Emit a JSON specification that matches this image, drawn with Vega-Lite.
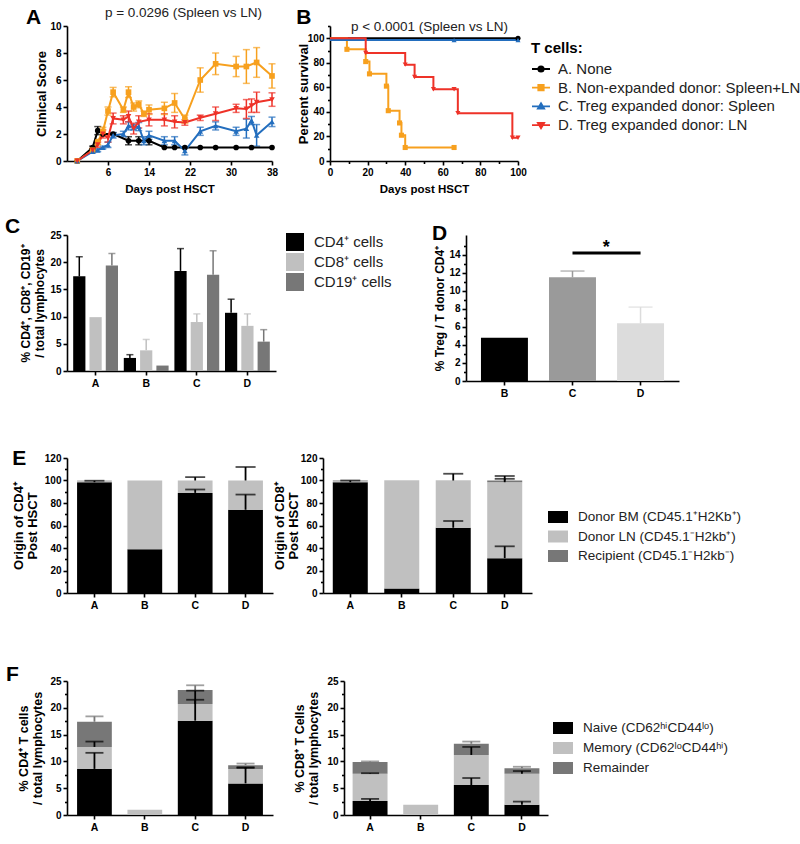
{
"$schema": "https://vega.github.io/schema/vega-lite/v6.json",
"background": "white",
"padding": {"left": 4, "top": 5, "right": 2, "bottom": 2},
"spacing": 21,
"resolve": {"scale": {"color": "independent", "shape": "independent", "stroke": "independent", "fill": "independent"}, "legend": {"color": "independent", "shape": "independent", "stroke": "independent", "fill": "independent"}},
"datasets": {
"score": [
{"day":0,"s":"A. None","score":0},{"day":3,"s":"A. None","score":1.0},{"day":4,"s":"A. None","score":2.25},{"day":5,"s":"A. None","score":2.0},{"day":7,"s":"A. None","score":2.0},{"day":10,"s":"A. None","score":1.5},{"day":12,"s":"A. None","score":1.5},{"day":14,"s":"A. None","score":1.5},{"day":17,"s":"A. None","score":1},{"day":19,"s":"A. None","score":1},{"day":21,"s":"A. None","score":1},{"day":24,"s":"A. None","score":1},{"day":27,"s":"A. None","score":1},{"day":31,"s":"A. None","score":1},{"day":34,"s":"A. None","score":1},{"day":38,"s":"A. None","score":1},
{"day":0,"s":"B. Non-expanded donor: Spleen+LN","score":0},{"day":3,"s":"B. Non-expanded donor: Spleen+LN","score":0.8},{"day":4,"s":"B. Non-expanded donor: Spleen+LN","score":1.4},{"day":5,"s":"B. Non-expanded donor: Spleen+LN","score":2.2},{"day":6,"s":"B. Non-expanded donor: Spleen+LN","score":3.7},{"day":7,"s":"B. Non-expanded donor: Spleen+LN","score":5.1},{"day":9,"s":"B. Non-expanded donor: Spleen+LN","score":3.8},{"day":10,"s":"B. Non-expanded donor: Spleen+LN","score":5.1},{"day":11,"s":"B. Non-expanded donor: Spleen+LN","score":4.0},{"day":12,"s":"B. Non-expanded donor: Spleen+LN","score":4.2},{"day":13,"s":"B. Non-expanded donor: Spleen+LN","score":3.5},{"day":14,"s":"B. Non-expanded donor: Spleen+LN","score":3.8},{"day":17,"s":"B. Non-expanded donor: Spleen+LN","score":3.9},{"day":19,"s":"B. Non-expanded donor: Spleen+LN","score":4.3},{"day":21,"s":"B. Non-expanded donor: Spleen+LN","score":3.1},{"day":24,"s":"B. Non-expanded donor: Spleen+LN","score":6.0},{"day":27,"s":"B. Non-expanded donor: Spleen+LN","score":7.2},{"day":31,"s":"B. Non-expanded donor: Spleen+LN","score":7.0},{"day":33,"s":"B. Non-expanded donor: Spleen+LN","score":7.0},{"day":35,"s":"B. Non-expanded donor: Spleen+LN","score":7.3},{"day":38,"s":"B. Non-expanded donor: Spleen+LN","score":6.3},
{"day":0,"s":"C. Treg expanded donor: Spleen","score":0},{"day":3,"s":"C. Treg expanded donor: Spleen","score":0.7},{"day":4,"s":"C. Treg expanded donor: Spleen","score":0.8},{"day":5,"s":"C. Treg expanded donor: Spleen","score":1.0},{"day":6,"s":"C. Treg expanded donor: Spleen","score":1.2},{"day":7,"s":"C. Treg expanded donor: Spleen","score":1.9},{"day":9,"s":"C. Treg expanded donor: Spleen","score":2.0},{"day":10,"s":"C. Treg expanded donor: Spleen","score":2.6},{"day":11,"s":"C. Treg expanded donor: Spleen","score":2.5},{"day":12,"s":"C. Treg expanded donor: Spleen","score":2.55},{"day":13,"s":"C. Treg expanded donor: Spleen","score":1.5},{"day":14,"s":"C. Treg expanded donor: Spleen","score":1.9},{"day":17,"s":"C. Treg expanded donor: Spleen","score":1.5},{"day":19,"s":"C. Treg expanded donor: Spleen","score":1.5},{"day":21,"s":"C. Treg expanded donor: Spleen","score":0.75},{"day":24,"s":"C. Treg expanded donor: Spleen","score":2.2},{"day":27,"s":"C. Treg expanded donor: Spleen","score":2.6},{"day":31,"s":"C. Treg expanded donor: Spleen","score":2.2},{"day":33,"s":"C. Treg expanded donor: Spleen","score":2.4},{"day":34,"s":"C. Treg expanded donor: Spleen","score":3.0},{"day":35,"s":"C. Treg expanded donor: Spleen","score":1.9},{"day":38,"s":"C. Treg expanded donor: Spleen","score":2.9},
{"day":0,"s":"D. Treg expanded donor: LN","score":0},{"day":3,"s":"D. Treg expanded donor: LN","score":0.8},{"day":4,"s":"D. Treg expanded donor: LN","score":1.2},{"day":5,"s":"D. Treg expanded donor: LN","score":2.0},{"day":6,"s":"D. Treg expanded donor: LN","score":1.7},{"day":7,"s":"D. Treg expanded donor: LN","score":3.15},{"day":9,"s":"D. Treg expanded donor: LN","score":3.05},{"day":10,"s":"D. Treg expanded donor: LN","score":3.3},{"day":11,"s":"D. Treg expanded donor: LN","score":2.4},{"day":12,"s":"D. Treg expanded donor: LN","score":2.9},{"day":14,"s":"D. Treg expanded donor: LN","score":3.05},{"day":17,"s":"D. Treg expanded donor: LN","score":3.05},{"day":19,"s":"D. Treg expanded donor: LN","score":2.9},{"day":21,"s":"D. Treg expanded donor: LN","score":2.85},{"day":24,"s":"D. Treg expanded donor: LN","score":3.2},{"day":27,"s":"D. Treg expanded donor: LN","score":3.5},{"day":31,"s":"D. Treg expanded donor: LN","score":3.9},{"day":33,"s":"D. Treg expanded donor: LN","score":3.85},{"day":34,"s":"D. Treg expanded donor: LN","score":4.1},{"day":35,"s":"D. Treg expanded donor: LN","score":4.35},{"day":38,"s":"D. Treg expanded donor: LN","score":4.55}
],
"scoreErr": [
{"day":3,"s":"A. None","lo":0.9,"hi":1.1},{"day":4,"s":"A. None","lo":1.95,"hi":2.55},{"day":7,"s":"A. None","lo":1.9,"hi":2.1},{"day":10,"s":"A. None","lo":1.2,"hi":1.8},{"day":12,"s":"A. None","lo":1.2,"hi":1.8},{"day":14,"s":"A. None","lo":1.2,"hi":1.8},
{"day":3,"s":"B. Non-expanded donor: Spleen+LN","lo":0.7,"hi":0.9},{"day":4,"s":"B. Non-expanded donor: Spleen+LN","lo":1.2,"hi":1.6},{"day":5,"s":"B. Non-expanded donor: Spleen+LN","lo":1.9,"hi":2.5},{"day":6,"s":"B. Non-expanded donor: Spleen+LN","lo":3.4,"hi":4.0},{"day":7,"s":"B. Non-expanded donor: Spleen+LN","lo":4.75,"hi":5.45},{"day":9,"s":"B. Non-expanded donor: Spleen+LN","lo":3.6,"hi":4.0},{"day":10,"s":"B. Non-expanded donor: Spleen+LN","lo":4.7,"hi":5.5},{"day":11,"s":"B. Non-expanded donor: Spleen+LN","lo":3.7,"hi":4.3},{"day":12,"s":"B. Non-expanded donor: Spleen+LN","lo":3.95,"hi":4.45},{"day":13,"s":"B. Non-expanded donor: Spleen+LN","lo":3.3,"hi":3.7},{"day":14,"s":"B. Non-expanded donor: Spleen+LN","lo":3.45,"hi":4.15},{"day":17,"s":"B. Non-expanded donor: Spleen+LN","lo":3.45,"hi":4.35},{"day":19,"s":"B. Non-expanded donor: Spleen+LN","lo":3.6,"hi":5.0},{"day":21,"s":"B. Non-expanded donor: Spleen+LN","lo":2.8,"hi":3.4},{"day":24,"s":"B. Non-expanded donor: Spleen+LN","lo":5.1,"hi":6.9},{"day":27,"s":"B. Non-expanded donor: Spleen+LN","lo":6.4,"hi":8.0},{"day":31,"s":"B. Non-expanded donor: Spleen+LN","lo":6.25,"hi":7.75},{"day":33,"s":"B. Non-expanded donor: Spleen+LN","lo":5.75,"hi":8.25},{"day":35,"s":"B. Non-expanded donor: Spleen+LN","lo":6.2,"hi":8.4},{"day":38,"s":"B. Non-expanded donor: Spleen+LN","lo":5.4,"hi":7.2},
{"day":3,"s":"C. Treg expanded donor: Spleen","lo":0.6,"hi":0.8},{"day":4,"s":"C. Treg expanded donor: Spleen","lo":0.7,"hi":0.9},{"day":5,"s":"C. Treg expanded donor: Spleen","lo":0.9,"hi":1.1},{"day":6,"s":"C. Treg expanded donor: Spleen","lo":1.0,"hi":1.4},{"day":7,"s":"C. Treg expanded donor: Spleen","lo":1.7,"hi":2.1},{"day":9,"s":"C. Treg expanded donor: Spleen","lo":1.8,"hi":2.2},{"day":10,"s":"C. Treg expanded donor: Spleen","lo":2.3,"hi":2.9},{"day":11,"s":"C. Treg expanded donor: Spleen","lo":2.3,"hi":2.7},{"day":12,"s":"C. Treg expanded donor: Spleen","lo":2.25,"hi":2.85},{"day":13,"s":"C. Treg expanded donor: Spleen","lo":1.2,"hi":1.8},{"day":14,"s":"C. Treg expanded donor: Spleen","lo":1.6,"hi":2.2},{"day":17,"s":"C. Treg expanded donor: Spleen","lo":1.2,"hi":1.8},{"day":19,"s":"C. Treg expanded donor: Spleen","lo":1.2,"hi":1.8},{"day":21,"s":"C. Treg expanded donor: Spleen","lo":0.45,"hi":1.05},{"day":24,"s":"C. Treg expanded donor: Spleen","lo":1.9,"hi":2.5},{"day":27,"s":"C. Treg expanded donor: Spleen","lo":2.3,"hi":2.9},{"day":31,"s":"C. Treg expanded donor: Spleen","lo":1.9,"hi":2.5},{"day":33,"s":"C. Treg expanded donor: Spleen","lo":1.7,"hi":3.1},{"day":34,"s":"C. Treg expanded donor: Spleen","lo":2.7,"hi":3.3},{"day":35,"s":"C. Treg expanded donor: Spleen","lo":1.1,"hi":2.7},{"day":38,"s":"C. Treg expanded donor: Spleen","lo":2.55,"hi":3.25},
{"day":3,"s":"D. Treg expanded donor: LN","lo":0.7,"hi":0.9},{"day":4,"s":"D. Treg expanded donor: LN","lo":1.0,"hi":1.4},{"day":5,"s":"D. Treg expanded donor: LN","lo":1.7,"hi":2.3},{"day":6,"s":"D. Treg expanded donor: LN","lo":1.4,"hi":2.0},{"day":7,"s":"D. Treg expanded donor: LN","lo":2.75,"hi":3.55},{"day":9,"s":"D. Treg expanded donor: LN","lo":2.75,"hi":3.35},{"day":10,"s":"D. Treg expanded donor: LN","lo":2.9,"hi":3.7},{"day":11,"s":"D. Treg expanded donor: LN","lo":2.0,"hi":2.8},{"day":12,"s":"D. Treg expanded donor: LN","lo":2.45,"hi":3.35},{"day":14,"s":"D. Treg expanded donor: LN","lo":2.6,"hi":3.5},{"day":17,"s":"D. Treg expanded donor: LN","lo":2.6,"hi":3.5},{"day":19,"s":"D. Treg expanded donor: LN","lo":2.45,"hi":3.35},{"day":21,"s":"D. Treg expanded donor: LN","lo":2.65,"hi":3.05},{"day":24,"s":"D. Treg expanded donor: LN","lo":3.0,"hi":3.4},{"day":27,"s":"D. Treg expanded donor: LN","lo":3.0,"hi":4.0},{"day":31,"s":"D. Treg expanded donor: LN","lo":3.6,"hi":4.2},{"day":33,"s":"D. Treg expanded donor: LN","lo":3.15,"hi":4.55},{"day":34,"s":"D. Treg expanded donor: LN","lo":3.6,"hi":4.6},{"day":35,"s":"D. Treg expanded donor: LN","lo":3.6,"hi":5.1},{"day":38,"s":"D. Treg expanded donor: LN","lo":4.05,"hi":5.05}
],
"surv": [
{"t":0,"p":100,"s":"A. None"},{"t":100,"p":100,"s":"A. None"},
{"t":0,"p":100,"s":"B. Non-expanded donor: Spleen+LN"},{"t":9,"p":91,"s":"B. Non-expanded donor: Spleen+LN"},{"t":19,"p":81,"s":"B. Non-expanded donor: Spleen+LN"},{"t":21,"p":71,"s":"B. Non-expanded donor: Spleen+LN"},{"t":30,"p":61,"s":"B. Non-expanded donor: Spleen+LN"},{"t":31,"p":41,"s":"B. Non-expanded donor: Spleen+LN"},{"t":37,"p":31,"s":"B. Non-expanded donor: Spleen+LN"},{"t":38,"p":21,"s":"B. Non-expanded donor: Spleen+LN"},{"t":40,"p":11,"s":"B. Non-expanded donor: Spleen+LN"},{"t":66,"p":11,"s":"B. Non-expanded donor: Spleen+LN"},
{"t":0,"p":98.5,"s":"C. Treg expanded donor: Spleen"},{"t":66,"p":98.5,"s":"C. Treg expanded donor: Spleen"},{"t":100,"p":98.5,"s":"C. Treg expanded donor: Spleen"},
{"t":0,"p":100,"s":"D. Treg expanded donor: LN"},{"t":19,"p":88,"s":"D. Treg expanded donor: LN"},{"t":40,"p":78.5,"s":"D. Treg expanded donor: LN"},{"t":45,"p":68.5,"s":"D. Treg expanded donor: LN"},{"t":55,"p":58.5,"s":"D. Treg expanded donor: LN"},{"t":66,"p":58.5,"s":"D. Treg expanded donor: LN"},{"t":68,"p":39,"s":"D. Treg expanded donor: LN"},{"t":97,"p":19,"s":"D. Treg expanded donor: LN"},{"t":100,"p":19,"s":"D. Treg expanded donor: LN"}
],
"cells": [
{"g":"A","cell":"CD4⁺ cells","v":17.4,"hi":21.0},{"g":"A","cell":"CD8⁺ cells","v":9.9,"hi":null},{"g":"A","cell":"CD19⁺ cells","v":19.4,"hi":21.6},
{"g":"B","cell":"CD4⁺ cells","v":2.4,"hi":3.0},{"g":"B","cell":"CD8⁺ cells","v":3.8,"hi":5.8},{"g":"B","cell":"CD19⁺ cells","v":1.0,"hi":null},
{"g":"C","cell":"CD4⁺ cells","v":18.4,"hi":22.5},{"g":"C","cell":"CD8⁺ cells","v":9.0,"hi":10.5},{"g":"C","cell":"CD19⁺ cells","v":17.7,"hi":22.1},
{"g":"D","cell":"CD4⁺ cells","v":10.7,"hi":13.2},{"g":"D","cell":"CD8⁺ cells","v":8.3,"hi":10.5},{"g":"D","cell":"CD19⁺ cells","v":5.4,"hi":7.6}
],
"treg": [
{"g":"B","v":4.8,"hi":null},{"g":"C","v":11.5,"hi":12.2},{"g":"D","v":6.4,"hi":8.2}
],
"e4": [
{"g":"A","cat":"Donor BM (CD45.1⁺H2Kb⁺)","v":98.5},{"g":"A","cat":"Donor LN (CD45.1⁻H2kb⁺)","v":1.2},{"g":"A","cat":"Recipient (CD45.1⁻H2kb⁻)","v":0.3},
{"g":"B","cat":"Donor BM (CD45.1⁺H2Kb⁺)","v":39},{"g":"B","cat":"Donor LN (CD45.1⁻H2kb⁺)","v":61},{"g":"B","cat":"Recipient (CD45.1⁻H2kb⁻)","v":0},
{"g":"C","cat":"Donor BM (CD45.1⁺H2Kb⁺)","v":89},{"g":"C","cat":"Donor LN (CD45.1⁻H2kb⁺)","v":11},{"g":"C","cat":"Recipient (CD45.1⁻H2kb⁻)","v":0},
{"g":"D","cat":"Donor BM (CD45.1⁺H2Kb⁺)","v":74},{"g":"D","cat":"Donor LN (CD45.1⁻H2kb⁺)","v":26},{"g":"D","cat":"Recipient (CD45.1⁻H2kb⁻)","v":0}
],
"e4err": [
{"g":"A","lo":98.5,"hi":99.8},{"g":"C","lo":89,"hi":92},{"g":"C","lo":100,"hi":103},{"g":"D","lo":74,"hi":87.5},{"g":"D","lo":100,"hi":112}
],
"e8": [
{"g":"A","cat":"Donor BM (CD45.1⁺H2Kb⁺)","v":98.5},{"g":"A","cat":"Donor LN (CD45.1⁻H2kb⁺)","v":1.0},{"g":"A","cat":"Recipient (CD45.1⁻H2kb⁻)","v":0.5},
{"g":"B","cat":"Donor BM (CD45.1⁺H2Kb⁺)","v":4},{"g":"B","cat":"Donor LN (CD45.1⁻H2kb⁺)","v":95.7},{"g":"B","cat":"Recipient (CD45.1⁻H2kb⁻)","v":0.3},
{"g":"C","cat":"Donor BM (CD45.1⁺H2Kb⁺)","v":58},{"g":"C","cat":"Donor LN (CD45.1⁻H2kb⁺)","v":41.7},{"g":"C","cat":"Recipient (CD45.1⁻H2kb⁻)","v":0.3},
{"g":"D","cat":"Donor BM (CD45.1⁺H2Kb⁺)","v":31},{"g":"D","cat":"Donor LN (CD45.1⁻H2kb⁺)","v":67.5},{"g":"D","cat":"Recipient (CD45.1⁻H2kb⁻)","v":1.5}
],
"e8err": [
{"g":"A","lo":98.5,"hi":100},{"g":"C","lo":58,"hi":64},{"g":"C","lo":100,"hi":106},{"g":"D","lo":31,"hi":41.5},{"g":"D","lo":100,"hi":101.5},{"g":"D","lo":98.5,"hi":104}
],
"f4": [
{"g":"A","cat":"Naive (CD62ʰⁱCD44ˡᵒ)","k":1,"v":8.6},{"g":"A","cat":"Memory (CD62ˡᵒCD44ʰⁱ)","k":2,"v":4.1},{"g":"A","cat":"Remainder","k":3,"v":4.7},
{"g":"B","cat":"Naive (CD62ʰⁱCD44ˡᵒ)","k":1,"v":0},{"g":"B","cat":"Memory (CD62ˡᵒCD44ʰⁱ)","k":2,"v":1.0},{"g":"B","cat":"Remainder","k":3,"v":0},
{"g":"C","cat":"Naive (CD62ʰⁱCD44ˡᵒ)","k":1,"v":17.6},{"g":"C","cat":"Memory (CD62ˡᵒCD44ʰⁱ)","k":2,"v":3.1},{"g":"C","cat":"Remainder","k":3,"v":2.6},
{"g":"D","cat":"Naive (CD62ʰⁱCD44ˡᵒ)","k":1,"v":5.9},{"g":"D","cat":"Memory (CD62ˡᵒCD44ʰⁱ)","k":2,"v":2.7},{"g":"D","cat":"Remainder","k":3,"v":0.7}
],
"f4err": [
{"g":"A","cat":"Naive (CD62ʰⁱCD44ˡᵒ)","lo":8.6,"hi":11.6},{"g":"A","cat":"Memory (CD62ˡᵒCD44ʰⁱ)","lo":12.7,"hi":13.7},{"g":"A","cat":"Remainder","lo":17.4,"hi":18.4},
{"g":"C","cat":"Naive (CD62ʰⁱCD44ˡᵒ)","lo":17.6,"hi":21.5},{"g":"C","cat":"Memory (CD62ˡᵒCD44ʰⁱ)","lo":20.7,"hi":23.2},{"g":"C","cat":"Remainder","lo":23.3,"hi":24.2},
{"g":"D","cat":"Naive (CD62ʰⁱCD44ˡᵒ)","lo":5.9,"hi":8.8},{"g":"D","cat":"Memory (CD62ˡᵒCD44ʰⁱ)","lo":8.6,"hi":8.9},{"g":"D","cat":"Remainder","lo":9.3,"hi":9.6}
],
"f8": [
{"g":"A","cat":"Naive (CD62ʰⁱCD44ˡᵒ)","k":1,"v":2.6},{"g":"A","cat":"Memory (CD62ˡᵒCD44ʰⁱ)","k":2,"v":5.1},{"g":"A","cat":"Remainder","k":3,"v":2.2},
{"g":"B","cat":"Naive (CD62ʰⁱCD44ˡᵒ)","k":1,"v":0},{"g":"B","cat":"Memory (CD62ˡᵒCD44ʰⁱ)","k":2,"v":1.9},{"g":"B","cat":"Remainder","k":3,"v":0},
{"g":"C","cat":"Naive (CD62ʰⁱCD44ˡᵒ)","k":1,"v":5.6},{"g":"C","cat":"Memory (CD62ˡᵒCD44ʰⁱ)","k":2,"v":5.6},{"g":"C","cat":"Remainder","k":3,"v":2.1},
{"g":"D","cat":"Naive (CD62ʰⁱCD44ˡᵒ)","k":1,"v":1.9},{"g":"D","cat":"Memory (CD62ˡᵒCD44ʰⁱ)","k":2,"v":5.8},{"g":"D","cat":"Remainder","k":3,"v":1.0}
],
"f8err": [
{"g":"A","cat":"Naive (CD62ʰⁱCD44ˡᵒ)","lo":2.6,"hi":3.0},{"g":"A","cat":"Memory (CD62ˡᵒCD44ʰⁱ)","lo":7.7,"hi":7.8},{"g":"A","cat":"Remainder","lo":9.9,"hi":10.0},
{"g":"C","cat":"Naive (CD62ʰⁱCD44ˡᵒ)","lo":5.6,"hi":6.9},{"g":"C","cat":"Memory (CD62ˡᵒCD44ʰⁱ)","lo":11.2,"hi":12.7},{"g":"C","cat":"Remainder","lo":13.3,"hi":13.7},
{"g":"D","cat":"Naive (CD62ʰⁱCD44ˡᵒ)","lo":1.9,"hi":2.5},{"g":"D","cat":"Memory (CD62ˡᵒCD44ʰⁱ)","lo":7.7,"hi":8.2},{"g":"D","cat":"Remainder","lo":8.7,"hi":9.0}
]
},
"vconcat": [
{"spacing": 18,
 "title": {"text": "A", "anchor": "start", "frame": "bounds", "dx": -10, "offset": -22},
 "resolve": {"scale": {"color": "independent", "shape": "independent"}, "legend": {"color": "independent", "shape": "independent"}},
 "hconcat": [
  {"width": 205, "height": 135,
   "title": {"text": "p = 0.0296 (Spleen vs LN)", "anchor": "middle", "frame": "group", "fontSize": 13.5, "fontWeight": "normal", "color": "#222222", "dx": 14, "offset": 2},
   "resolve": {"axis": {"x": "independent", "y": "independent"}},
   "layer": [
     {"data": {"name": "scoreErr"}, "mark": {"type": "rule", "strokeWidth": 1.5},
      "encoding": {
        "x": {"field": "day", "type": "quantitative", "scale": {"domain": [-2, 38], "nice": false, "zero": false}, "axis": null},
        "y": {"field": "lo", "type": "quantitative", "scale": {"domain": [0, 10], "nice": false}, "axis": null},
        "y2": {"field": "hi"},
        "color": {"field": "s", "type": "nominal", "scale": {"domain": ["A. None", "B. Non-expanded donor: Spleen+LN", "C. Treg expanded donor: Spleen", "D. Treg expanded donor: LN"], "range": ["#000000", "#F7A01E", "#236EBE", "#EE3228"]}, "legend": null}}},
     {"data": {"name": "scoreErr"}, "mark": {"type": "tick", "orient": "horizontal", "thickness": 1.5, "size": 7},
      "encoding": {"x": {"field": "day", "type": "quantitative", "axis": null}, "y": {"field": "hi", "type": "quantitative", "axis": null}, "color": {"field": "s", "type": "nominal", "legend": null}}},
     {"data": {"name": "scoreErr"}, "mark": {"type": "tick", "orient": "horizontal", "thickness": 1.5, "size": 7},
      "encoding": {"x": {"field": "day", "type": "quantitative", "axis": null}, "y": {"field": "lo", "type": "quantitative", "axis": null}, "color": {"field": "s", "type": "nominal", "legend": null}}},
     {"data": {"name": "score"}, "mark": {"type": "line", "strokeWidth": 2},
      "encoding": {
        "x": {"field": "day", "type": "quantitative", "axis": {"orient": "bottom", "values": [6, 14, 22, 30, 38], "title": "Days post HSCT", "titleFontSize": 11.5, "titlePadding": 6}},
        "y": {"field": "score", "type": "quantitative", "axis": {"orient": "left", "values": [0, 2, 4, 6, 8, 10], "title": "Clinical Score", "titleFontSize": 13, "titlePadding": 1}},
        "color": {"field": "s", "type": "nominal", "legend": null}}},
     {"data": {"name": "score"}, "mark": {"type": "point", "filled": true, "size": 32, "opacity": 1},
      "encoding": {
        "x": {"field": "day", "type": "quantitative", "axis": null},
        "y": {"field": "score", "type": "quantitative", "axis": null},
        "color": {"field": "s", "type": "nominal", "legend": null},
        "shape": {"condition": [{"test": "datum.s === 'A. None'", "value": "circle"}, {"test": "datum.s === 'B. Non-expanded donor: Spleen+LN'", "value": "square"}, {"test": "datum.s === 'C. Treg expanded donor: Spleen'", "value": "triangle-up"}], "value": "triangle-down"}}}
   ]
  },
  {"width": 188, "height": 135,
   "title": {"text": "B", "dx": -1, "offset": -9},
   "data": {"name": "surv"},
   "resolve": {"axis": {"x": "independent", "y": "independent"}},
   "layer": [
     {"mark": {"type": "line", "interpolate": "step-after", "strokeWidth": 2},
      "encoding": {
       "x": {"field": "t", "type": "quantitative", "scale": {"domain": [0, 100], "nice": false}, "axis": {"orient": "bottom", "values": [0, 10, 20, 30, 40, 50, 60, 70, 80, 90, 100], "labelExpr": "datum.value % 20 === 0 ? datum.label : ''", "tickSize": {"condition": {"test": "datum.value % 20 === 0", "value": 4}, "value": 2.5}, "title": "Days post HSCT", "titleFontSize": 11.5, "titlePadding": 6}},
       "y": {"field": "p", "type": "quantitative", "scale": {"domain": [0, 110], "nice": false}, "axis": {"orient": "left", "values": [0, 10, 20, 30, 40, 50, 60, 70, 80, 90, 100, 110], "labelExpr": "datum.value % 20 === 0 && datum.value <= 100 ? datum.label : ''", "tickSize": {"condition": {"test": "datum.value % 20 === 0", "value": 4}, "value": 2.5}, "title": "Percent survival", "titleFontSize": 13, "titlePadding": -3}},
       "color": {"field": "s", "type": "nominal", "scale": {"domain": ["A. None", "B. Non-expanded donor: Spleen+LN", "C. Treg expanded donor: Spleen", "D. Treg expanded donor: LN"], "range": ["#000000", "#F7A01E", "#236EBE", "#EE3228"]},
        "legend": {"orient": "none", "legendX": 201, "legendY": 15, "title": "T cells:", "titleFontSize": 15, "titleFontWeight": "bold", "titlePadding": 3, "labelFontSize": 15, "labelOffset": 7, "symbolSize": 324, "rowPadding": 0.7, "symbolStrokeWidth": 1.8,
          "symbolType": "M-1,0H1M0.3,0A0.3,0.3 0 1,1 -0.3,0A0.3,0.3 0 1,1 0.3,0Z",
          "encode": {"symbols": {"update": {
            "shape": {"signal": "datum.value === 'A. None' ? 'M-1,0H1M0.3,0A0.3,0.3 0 1,1 -0.3,0A0.3,0.3 0 1,1 0.3,0Z' : datum.value === 'B. Non-expanded donor: Spleen+LN' ? 'M-1,0H1M-0.3,-0.3H0.3V0.3H-0.3Z' : datum.value === 'C. Treg expanded donor: Spleen' ? 'M-1,0H1M0,-0.35L0.35,0.25H-0.35Z' : 'M-1,0H1M0,0.35L0.35,-0.25H-0.35Z'"},
            "fill": {"signal": "datum.value === 'A. None' ? '#000000' : datum.value === 'B. Non-expanded donor: Spleen+LN' ? '#F7A01E' : datum.value === 'C. Treg expanded donor: Spleen' ? '#236EBE' : '#EE3228'"},
            "stroke": {"signal": "datum.value === 'A. None' ? '#000000' : datum.value === 'B. Non-expanded donor: Spleen+LN' ? '#F7A01E' : datum.value === 'C. Treg expanded donor: Spleen' ? '#236EBE' : '#EE3228'"},
            "strokeWidth": {"value": 1.8}, "opacity": {"value": 1}, "fillOpacity": {"value": 1}}}}}}
      }},
     {"transform": [{"filter": "datum.t > 0"}], "mark": {"type": "point", "filled": true, "size": 26, "opacity": 1},
      "encoding": {
        "x": {"field": "t", "type": "quantitative", "axis": {"orient": "top", "title": "p < 0.0001 (Spleen vs LN)", "labels": false, "ticks": false, "domain": false, "titleFontWeight": "normal", "titleFontSize": 13.5, "titleColor": "#222222", "titleX": 99, "titleY": 4, "titleBaseline": "alphabetic", "titleAlign": "center", "titleAnchor": "middle"}},
        "y": {"field": "p", "type": "quantitative", "axis": null},
        "color": {"field": "s", "type": "nominal"},
        "shape": {"condition": [{"test": "datum.s === 'A. None'", "value": "circle"}, {"test": "datum.s === 'B. Non-expanded donor: Spleen+LN'", "value": "square"}, {"test": "datum.s === 'C. Treg expanded donor: Spleen'", "value": "triangle-up"}], "value": "triangle-down"}}}
   ]
  }
 ]
},
{"spacing": 39,
 "resolve": {"scale": {"color": "independent"}, "legend": {"color": "independent"}},
 "hconcat": [
  {"width": 209, "height": 136,
   "title": {"text": "C", "dx": -15, "offset": -7},
   "data": {"name": "cells"},
   "resolve": {"axis": {"y": "independent"}},
   "encoding": {
     "x": {"field": "g", "type": "nominal", "scale": {"domain": ["A", "B", "C", "D"], "paddingInner": 0.05, "paddingOuter": 0.09}, "axis": {"title": null}},
     "xOffset": {"field": "cell", "type": "nominal", "scale": {"domain": ["CD4⁺ cells", "CD8⁺ cells", "CD19⁺ cells"], "paddingInner": 0.25, "paddingOuter": 0.1}},
     "color": {"field": "cell", "type": "nominal", "scale": {"domain": ["CD4⁺ cells", "CD8⁺ cells", "CD19⁺ cells"], "range": ["#000000", "#c0c0c0", "#777777"]},
       "legend": {"orient": "none", "legendX": 219, "legendY": -2, "title": null, "symbolType": "square", "symbolSize": 324, "symbolStrokeWidth": 0, "symbolOpacity": 1, "labelFontSize": 15, "labelOffset": 10, "rowPadding": 2}}
   },
   "layer": [
     {"mark": {"type": "bar", "opacity": 1}, "encoding": {"y": {"field": "v", "type": "quantitative", "scale": {"domain": [0, 25], "nice": false}, "axis": {"orient": "left", "values": [0, 5, 10, 15, 20, 25], "title": ["% CD4⁺, CD8⁺, CD19⁺", "/ total lymphocytes"], "titleFontSize": 12, "titlePadding": 3}}}},
     {"transform": [{"filter": "datum.hi != null"}], "mark": {"type": "rule", "strokeWidth": 1.5}, "encoding": {"y": {"field": "v", "type": "quantitative", "axis": null}, "y2": {"field": "hi"}}},
     {"transform": [{"filter": "datum.hi != null"}], "mark": {"type": "tick", "thickness": 1.5, "size": 7}, "encoding": {"y": {"field": "hi", "type": "quantitative", "axis": null}}}
   ]
  },
  {"width": 213, "height": 146,
   "title": {"text": "D", "dx": -2, "offset": -8.5},
   "data": {"name": "treg"},
   "resolve": {"axis": {"x": "independent", "y": "independent"}},
   "layer": [
     {"mark": {"type": "bar"}, "encoding": {
       "x": {"field": "g", "type": "nominal", "scale": {"domain": ["B", "C", "D"], "paddingInner": 0.31, "paddingOuter": 0.22}, "axis": {"orient": "bottom", "title": null}},
       "y": {"field": "v", "type": "quantitative", "scale": {"domain": [0, 16.2], "nice": false}, "axis": {"orient": "left", "values": [0, 1, 2, 3, 4, 5, 6, 7, 8, 9, 10, 11, 12, 13, 14, 15], "labelExpr": "datum.value % 2 === 0 ? datum.label : ''", "tickSize": {"condition": {"test": "datum.value % 2 === 0", "value": 4}, "value": 2.5}, "title": "% Treg / T donor CD4⁺", "titleFontSize": 12, "titlePadding": 2}},
       "color": {"field": "g", "type": "nominal", "scale": {"domain": ["B", "C", "D"], "range": ["#000000", "#9a9a9a", "#dcdcdc"]}, "legend": null}}},
     {"transform": [{"filter": "datum.hi != null"}], "mark": {"type": "rule", "strokeWidth": 1.5}, "encoding": {"x": {"field": "g", "type": "nominal", "axis": null}, "y": {"field": "v", "type": "quantitative", "axis": null}, "y2": {"field": "hi"}, "color": {"field": "g", "type": "nominal", "legend": null}}},
     {"transform": [{"filter": "datum.hi != null"}], "mark": {"type": "tick", "thickness": 1.5, "size": 24}, "encoding": {"x": {"field": "g", "type": "nominal", "axis": null}, "y": {"field": "hi", "type": "quantitative", "axis": null}, "color": {"field": "g", "type": "nominal", "legend": null}}},
     {"data": {"values": [{"a": 1}]}, "mark": {"type": "rule", "strokeWidth": 3, "color": "#000000"}, "encoding": {"x": {"datum": "C", "bandPosition": 0.5, "axis": null}, "x2": {"datum": "D", "bandPosition": 0.5}, "y": {"datum": 14.2, "axis": null}}},
     {"data": {"values": [{"a": 1}]}, "mark": {"type": "text", "text": "*", "fontSize": 18, "fontWeight": "bold", "baseline": "alphabetic", "color": "#000000"}, "encoding": {"x": {"datum": "C", "bandPosition": 1.22, "axis": null}, "y": {"datum": 14.2, "axis": null}}}
   ]
  }
 ]
},
{"spacing": 0,
 "resolve": {"scale": {"color": "independent"}, "legend": {"color": "independent"}},
 "hconcat": [
  {"width": 206, "height": 135,
   "title": {"text": ["", "E"], "lineHeight": 27, "dx": 0, "offset": -15.5},
   "resolve": {"axis": {"y": "independent"}},
   "encoding": {"x": {"field": "g", "type": "nominal", "scale": {"domain": ["A", "B", "C", "D"], "paddingInner": 0.31, "paddingOuter": 0.2}, "axis": {"title": null}}},
   "layer": [
     {"data": {"name": "e4"}, "mark": {"type": "bar"}, "encoding": {"y": {"field": "v", "type": "quantitative", "stack": "zero", "scale": {"domain": [0, 120], "nice": false}, "axis": {"orient": "left", "values": [0, 10, 20, 30, 40, 50, 60, 70, 80, 90, 100, 110, 120], "labelExpr": "datum.value % 20 === 0 ? datum.label : ''", "tickSize": {"condition": {"test": "datum.value % 20 === 0", "value": 4}, "value": 2.5}, "title": ["Origin of CD4⁺", "Post HSCT"], "titleFontSize": 13, "titlePadding": 5}},
       "color": {"field": "cat", "type": "nominal", "scale": {"domain": ["Donor BM (CD45.1⁺H2Kb⁺)", "Donor LN (CD45.1⁻H2kb⁺)", "Recipient (CD45.1⁻H2kb⁻)"], "range": ["#000000", "#c0c0c0", "#777777"]}, "legend": null}, "order": {"field": "cat"}}},
     {"data": {"name": "e4err"}, "mark": {"type": "rule", "strokeWidth": 1.8, "color": "#000000"}, "encoding": {"y": {"field": "lo", "type": "quantitative", "axis": null}, "y2": {"field": "hi"}}},
     {"data": {"name": "e4err"}, "mark": {"type": "tick", "thickness": 1.8, "size": 20, "color": "#000000"}, "encoding": {"y": {"field": "hi", "type": "quantitative", "axis": null}}}
   ]
  },
  {"width": 209, "height": 135,
   "resolve": {"axis": {"y": "independent"}},
   "encoding": {"x": {"field": "g", "type": "nominal", "scale": {"domain": ["A", "B", "C", "D"], "paddingInner": 0.32, "paddingOuter": 0.19}, "axis": {"title": null}}},
   "layer": [
     {"data": {"name": "e8"}, "mark": {"type": "bar"}, "encoding": {"y": {"field": "v", "type": "quantitative", "stack": "zero", "scale": {"domain": [0, 120], "nice": false}, "axis": {"orient": "left", "values": [0, 10, 20, 30, 40, 50, 60, 70, 80, 90, 100, 110, 120], "labelExpr": "datum.value % 20 === 0 ? datum.label : ''", "tickSize": {"condition": {"test": "datum.value % 20 === 0", "value": 4}, "value": 2.5}, "title": ["Origin of CD8⁺", "Post HSCT"], "titleFontSize": 13, "titlePadding": 0}},
       "color": {"field": "cat", "type": "nominal", "scale": {"domain": ["Donor BM (CD45.1⁺H2Kb⁺)", "Donor LN (CD45.1⁻H2kb⁺)", "Recipient (CD45.1⁻H2kb⁻)"], "range": ["#000000", "#c0c0c0", "#777777"]},
         "legend": {"orient": "none", "legendX": 225, "legendY": 49, "title": null, "symbolType": "M-1,-0.6H1V0.6H-1Z", "symbolSize": 400, "symbolStrokeWidth": 0, "symbolOpacity": 1, "labelFontSize": 13.5, "labelOffset": 10, "rowPadding": 2.5}},
       "order": {"field": "cat"}}},
     {"data": {"name": "e8err"}, "mark": {"type": "rule", "strokeWidth": 1.8, "color": "#000000"}, "encoding": {"y": {"field": "lo", "type": "quantitative", "axis": null}, "y2": {"field": "hi"}}},
     {"data": {"name": "e8err"}, "mark": {"type": "tick", "thickness": 1.8, "size": 20, "color": "#000000"}, "encoding": {"y": {"field": "hi", "type": "quantitative", "axis": null}}}
   ]
  }
 ]
},
{"spacing": 20,
 "resolve": {"scale": {"color": "independent", "stroke": "independent", "fill": "independent"}, "legend": {"color": "independent", "stroke": "independent", "fill": "independent"}},
 "hconcat": [
  {"width": 206, "height": 134,
   "title": {"text": ["", "F"], "lineHeight": 31, "dx": -12, "offset": -8.5},
   "resolve": {"axis": {"y": "independent"}},
   "encoding": {"x": {"field": "g", "type": "nominal", "scale": {"domain": ["A", "B", "C", "D"], "paddingInner": 0.31, "paddingOuter": 0.2}, "axis": {"title": null}}},
   "layer": [
     {"data": {"name": "f4"}, "mark": {"type": "bar"}, "encoding": {"y": {"field": "v", "type": "quantitative", "stack": "zero", "scale": {"domain": [0, 25], "nice": false}, "axis": {"orient": "left", "values": [0, 2.5, 5, 7.5, 10, 12.5, 15, 17.5, 20, 22.5, 25], "labelExpr": "datum.value % 5 === 0 ? datum.label : ''", "tickSize": {"condition": {"test": "datum.value % 5 === 0", "value": 4}, "value": 2.5}, "title": ["% CD4⁺ T cells", "/ total lymphocytes"], "titleFontSize": 12.5, "titlePadding": 5}},
       "color": {"field": "cat", "type": "nominal", "scale": {"domain": ["Naive (CD62ʰⁱCD44ˡᵒ)", "Memory (CD62ˡᵒCD44ʰⁱ)", "Remainder"], "range": ["#000000", "#c0c0c0", "#777777"]}, "legend": null}, "order": {"field": "k"}}},
     {"data": {"name": "f4err"}, "mark": {"type": "rule", "strokeWidth": 1.8}, "encoding": {"y": {"field": "lo", "type": "quantitative", "axis": null}, "y2": {"field": "hi"}, "stroke": {"field": "cat", "type": "nominal", "scale": {"domain": ["Naive (CD62ʰⁱCD44ˡᵒ)", "Memory (CD62ˡᵒCD44ʰⁱ)", "Remainder"], "range": ["#000000", "#000000", "#777777"]}, "legend": null}}},
     {"data": {"name": "f4err"}, "mark": {"type": "tick", "thickness": 1.8, "size": 18}, "encoding": {"y": {"field": "hi", "type": "quantitative", "axis": null}, "fill": {"field": "cat", "type": "nominal", "scale": {"domain": ["Naive (CD62ʰⁱCD44ˡᵒ)", "Memory (CD62ˡᵒCD44ʰⁱ)", "Remainder"], "range": ["#000000", "#000000", "#777777"]}, "legend": null}}}
   ]
  },
  {"width": 204, "height": 134,
   "resolve": {"axis": {"y": "independent"}},
   "encoding": {"x": {"field": "g", "type": "nominal", "scale": {"domain": ["A", "B", "C", "D"], "paddingInner": 0.31, "paddingOuter": 0.17}, "axis": {"title": null}}},
   "layer": [
     {"data": {"name": "f8"}, "mark": {"type": "bar"}, "encoding": {"y": {"field": "v", "type": "quantitative", "stack": "zero", "scale": {"domain": [0, 25], "nice": false}, "axis": {"orient": "left", "values": [0, 2.5, 5, 7.5, 10, 12.5, 15, 17.5, 20, 22.5, 25], "labelExpr": "datum.value % 5 === 0 ? datum.label : ''", "tickSize": {"condition": {"test": "datum.value % 5 === 0", "value": 4}, "value": 2.5}, "title": ["% CD8⁺ T Cells", "/ total lymphocytes"], "titleFontSize": 12.5, "titlePadding": 6}},
       "color": {"field": "cat", "type": "nominal", "scale": {"domain": ["Naive (CD62ʰⁱCD44ˡᵒ)", "Memory (CD62ˡᵒCD44ʰⁱ)", "Remainder"], "range": ["#000000", "#c0c0c0", "#777777"]},
         "legend": {"orient": "none", "legendX": 209, "legendY": 37, "title": null, "symbolType": "M-1,-0.6H1V0.6H-1Z", "symbolSize": 400, "symbolStrokeWidth": 0, "symbolOpacity": 1, "labelFontSize": 13.5, "labelOffset": 10, "rowPadding": 3}},
       "order": {"field": "k"}}},
     {"data": {"name": "f8err"}, "mark": {"type": "rule", "strokeWidth": 1.8}, "encoding": {"y": {"field": "lo", "type": "quantitative", "axis": null}, "y2": {"field": "hi"}, "stroke": {"field": "cat", "type": "nominal", "scale": {"domain": ["Naive (CD62ʰⁱCD44ˡᵒ)", "Memory (CD62ˡᵒCD44ʰⁱ)", "Remainder"], "range": ["#000000", "#000000", "#777777"]}, "legend": null}}},
     {"data": {"name": "f8err"}, "mark": {"type": "tick", "thickness": 1.8, "size": 18}, "encoding": {"y": {"field": "hi", "type": "quantitative", "axis": null}, "fill": {"field": "cat", "type": "nominal", "scale": {"domain": ["Naive (CD62ʰⁱCD44ˡᵒ)", "Memory (CD62ˡᵒCD44ʰⁱ)", "Remainder"], "range": ["#000000", "#000000", "#777777"]}, "legend": null}}}
   ]
  }
 ]
}
],
"config": {
 "font": "Liberation Sans",
 "view": {"stroke": null},
 "axis": {"grid": false, "domainColor": "#000000", "domainWidth": 1.6, "tickColor": "#000000", "tickWidth": 1.6, "tickSize": 4, "labelColor": "#000000", "labelFont": "Liberation Sans", "labelFontWeight": "bold", "labelFontSize": 10, "labelPadding": 2, "labelFlush": false, "labelOverlap": false, "titleColor": "#000000", "titleFont": "Liberation Sans", "titleFontWeight": "bold", "titleFontSize": 12.5, "titlePadding": 4, "titleLineHeight": 14},
 "axisBand": {"bandPosition": 0.5, "labelAngle": 0, "labelFontSize": 10.5, "labelPadding": 3, "tickSize": 4},
 "title": {"font": "Liberation Sans", "fontSize": 21, "fontWeight": "bold", "color": "#000000", "anchor": "start", "frame": "bounds"},
 "legend": {"labelFont": "Liberation Sans", "labelColor": "#222222", "titleFont": "Liberation Sans", "titleColor": "#000000", "padding": 0, "labelLimit": 400},
 "text": {"font": "Liberation Sans"}
}
}
